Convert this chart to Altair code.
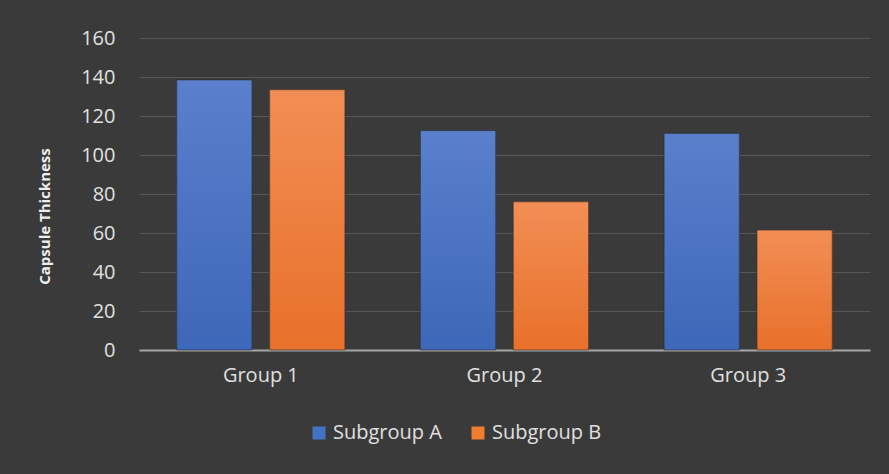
import altair as alt
import pandas as pd

groups = ["Group 1", "Group 1", "Group 2", "Group 2", "Group 3", "Group 3"]
subgroups = ["Subgroup A", "Subgroup B"] * 3
values = [138.5, 133.5, 112.5, 76, 111, 61.5]

df = pd.DataFrame({"Group": groups, "Subgroup": subgroups, "Value": values})

FONT = "Open Sans"
grad_a = alt.LinearGradient(gradient="linear", x1=0, x2=0, y1=0, y2=1,
                            stops=[alt.GradientStop(color="#5a80cc", offset=0),
                                   alt.GradientStop(color="#3d67b8", offset=1)])
grad_b = alt.LinearGradient(gradient="linear", x1=0, x2=0, y1=0, y2=1,
                            stops=[alt.GradientStop(color="#f28e55", offset=0),
                                   alt.GradientStop(color="#e8702a", offset=1)])

x = alt.X("Group:N", title=None,
          scale=alt.Scale(paddingInner=0.31, paddingOuter=0.155),
          axis=alt.Axis(labelAngle=0, ticks=False, labelPadding=15, labelFontSize=20,
                        labelColor="#e0e0e0", labelFont=FONT, domainColor="#a6a6a6",
                        domainWidth=2, grid=False))
xo = alt.XOffset("Subgroup:N", scale=alt.Scale(paddingInner=0.19, paddingOuter=0))
y = alt.Y("Value:Q", title="Capsule Thickness",
          scale=alt.Scale(domain=[0, 160], nice=False),
          axis=alt.Axis(values=list(range(0, 161, 20)), ticks=False, domain=False,
                        labelPadding=24, labelFontSize=20, labelColor="#e0e0e0",
                        labelFont=FONT, gridColor="#575757", gridWidth=1,
                        titleFont=FONT, titleFontSize=15, titleFontWeight="bold",
                        titleColor="#eeeeee", titleAngle=270, titleAlign="center",
                        titleBaseline="middle", titleX=-95, titleY=178))

base = alt.Chart(df).mark_bar().encode(
    x=x, xOffset=xo, y=y,
    color=alt.Color("Subgroup:N", title=None,
                    scale=alt.Scale(domain=["Subgroup A", "Subgroup B"],
                                    range=["#4472c4", "#ed7d31"]),
                    legend=alt.Legend(orient="none", legendX=170, legendY=385,
                                      direction="horizontal", symbolType="square",
                                      symbolSize=169, symbolStrokeWidth=0,
                                      labelFontSize=20, labelColor="#e0e0e0",
                                      labelFont=FONT, labelOffset=4, columnPadding=26,
                                      padding=0)),
)

over = alt.Chart(df).mark_bar(stroke="#2b2b2b", strokeWidth=1, strokeOpacity=0.6).encode(
    x=x, xOffset=xo, y=y,
    fill=alt.condition(alt.datum.Subgroup == "Subgroup A", alt.value(grad_a), alt.value(grad_b)),
)

chart = alt.layer(base, over).properties(
    width=731, height=312,
    autosize=alt.AutoSizeParams(type="none"),
    padding={"left": 139, "top": 38, "right": 19, "bottom": 124},
    background="#3a3a3a",
).configure_view(stroke=None)

chart.save("out.html", embed_options={"renderer": "svg", "actions": False})
